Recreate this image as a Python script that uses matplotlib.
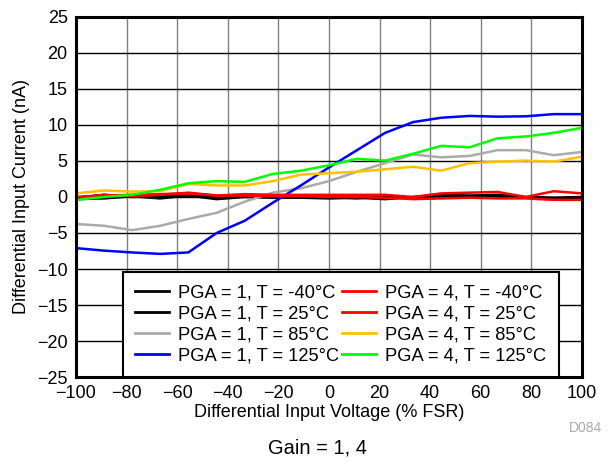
import numpy as np
import matplotlib.pyplot as plt

plt.rcParams['font.family'] = ['Liberation Sans', 'DejaVu Sans']

# % FSR sample points (19 steps from -100 to 100)
fsr = [-100, -88.9, -77.8, -66.7, -55.6, -44.4, -33.3, -22.2, -11.1, 0,
       11.1, 22.2, 33.3, 44.4, 55.6, 66.7, 77.8, 88.9, 100]

pga1_m40 = [-0.3, -0.2, 0.1, -0.2, 0.2, -0.3, 0.0, -0.1, -0.1, -0.2,
            -0.1, -0.3, 0.0, 0.3, 0.2, 0.3, 0.0, -0.1, 0.0]
pga1_25 = [-0.1, 0.3, 0.0, 0.1, 0.3, 0.1, 0.1, 0.0, 0.0, 0.0,
           -0.2, 0.1, -0.1, 0.1, 0.1, 0.0, -0.1, -0.2, -0.2]
pga1_85 = [-3.75, -4.0, -4.6, -4.0, -3.05, -2.2, -0.65, 0.6, 1.2, 2.2,
           3.5, 4.7, 5.9, 5.5, 5.7, 6.5, 6.5, 5.8, 6.25]
pga1_125 = [-7.1, -7.45, -7.7, -7.9, -7.7, -5.0, -3.3, -0.8, 1.6, 4.1,
            6.5, 8.9, 10.4, 11.0, 11.25, 11.15, 11.2, 11.5, 11.5]
pga4_m40 = [-0.1, 0.3, 0.1, 0.3, 0.6, 0.2, 0.4, 0.3, 0.3, 0.3,
            0.3, 0.3, 0.0, 0.5, 0.6, 0.7, 0.0, 0.8, 0.5]
pga4_25 = [0.0, 0.2, 0.3, 0.4, 0.5, 0.2, 0.2, 0.1, 0.1, 0.0,
           0.0, -0.1, -0.3, -0.2, -0.1, -0.2, -0.2, -0.4, -0.4]
pga4_85 = [0.5, 0.9, 0.75, 0.8, 1.8, 1.6, 1.6, 2.2, 3.1, 3.3,
           3.5, 3.85, 4.2, 3.65, 4.7, 4.9, 5.05, 4.9, 5.6]
pga4_125 = [-0.4, 0.0, 0.3, 1.0, 1.9, 2.2, 2.1, 3.2, 3.65, 4.4,
            5.3, 5.05, 6.0, 7.1, 6.9, 8.15, 8.4, 8.9, 9.6]

series = [
    (pga1_m40, '#000000', 'PGA = 1, T = -40\u00b0C'),
    (pga1_25, '#000000', 'PGA = 1, T = 25\u00b0C'),
    (pga1_85, '#AAAAAA', 'PGA = 1, T = 85\u00b0C'),
    (pga1_125, '#0000FF', 'PGA = 1, T = 125\u00b0C'),
    (pga4_m40, '#FF0000', 'PGA = 4, T = -40\u00b0C'),
    (pga4_25, '#FF0000', 'PGA = 4, T = 25\u00b0C'),
    (pga4_85, '#FFC000', 'PGA = 4, T = 85\u00b0C'),
    (pga4_125, '#00FF00', 'PGA = 4, T = 125\u00b0C'),
]

fig = plt.figure(figsize=(6.08, 4.69), dpi=100)
ax = fig.add_axes([0.125, 0.196, 0.832, 0.768])

for vals, col, lab in series:
    ax.plot(fsr, vals, color=col, lw=1.8, label=lab)

ax.set_xlim(-100, 100)
ax.set_ylim(-25, 25)
ax.set_xticks(np.arange(-100, 101, 20))
ax.set_yticks(np.arange(-25, 26, 5))
ax.xaxis.grid(True, color='#808080', lw=1.0)
ax.yaxis.grid(True, color='#000000', lw=1.0)
ax.set_axisbelow(True)
ax.tick_params(length=0, labelsize=13, pad=6)
for s in ax.spines.values():
    s.set_linewidth(2.2)

ax.set_xlabel('Differential Input Voltage (% FSR)', fontsize=13, labelpad=1)
ax.set_ylabel('Differential Input Current (nA)', fontsize=13, labelpad=5)

leg = ax.legend(ncol=2, loc='lower left', bbox_to_anchor=(0.092, 0.0, 0.862, 0.295),
                mode='expand', fontsize=13.2, frameon=True, fancybox=False,
                edgecolor='black', framealpha=1, handlelength=1.85,
                borderaxespad=0, labelspacing=0.22, columnspacing=0.8,
                handletextpad=0.5, borderpad=0.68)
leg.get_frame().set_linewidth(1.5)
for line in leg.get_lines():
    line.set_linewidth(2.0)

fig.text(0.936, 0.087, 'D084', fontsize=10, color='#AAAAAA', ha='left', va='center')
fig.text(0.523, 0.045, 'Gain = 1, 4', fontsize=14.5, ha='center', va='center')

fig.savefig('out.png', dpi=100)
